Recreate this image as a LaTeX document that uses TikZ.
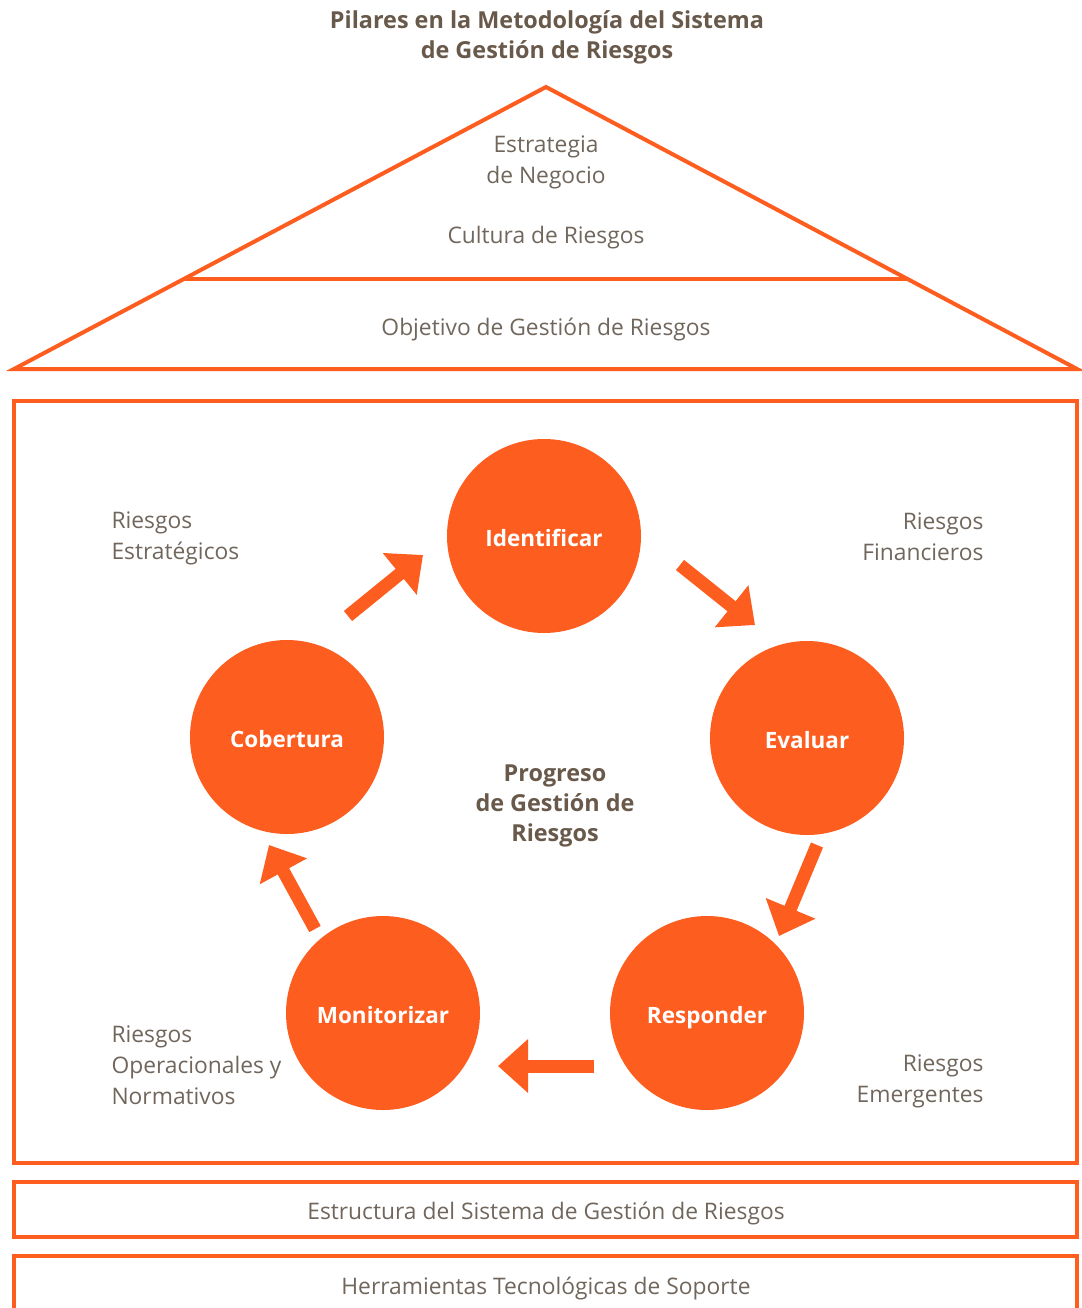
\documentclass[tikz,border=0pt]{standalone}
\usepackage{fontspec}
\setmainfont{Open Sans}
\usetikzlibrary{arrows.meta}
\definecolor{naranja}{RGB}{253,93,31}
\definecolor{gris}{RGB}{112,102,92}
\definecolor{marron}{RGB}{104,89,74}

\tikzset{
  linea/.style={draw=naranja, line width=4pt},
  paso/.style={circle, fill=naranja, minimum size=194pt, inner sep=0pt,
    text height=20pt, text depth=0pt,
    text=white, font=\bfseries\fontsize{22.5}{28}\selectfont},
  texto/.style={text=gris, font=\fontsize{22.8}{31}\selectfont, align=center},
  negrita/.style={text=marron, font=\bfseries\fontsize{23.4}{30}\selectfont, align=center},
  flecha/.style={draw=naranja, line width=13pt, -{Triangle[width=52pt,length=30pt]}},
}

\begin{document}
\begin{tikzpicture}[x=1pt,y=-1pt]
\useasboundingbox (0,0) rectangle (1081,1308);

% title
\node[negrita] (titulo) at (547,37) {Pilares en la Metodología del Sistema\\de Gestión de Riesgos};

% roof
\draw[linea, line join=miter] (14,369) -- (546,87) -- (1077,369) -- cycle;
\draw[linea] (184,279) -- (908,279);
\node[texto] (estrategia) at (546,162) {Estrategia\\de Negocio};
\node[texto] (cultura) at (546,238) {Cultura de Riesgos};
\node[texto] (objetivo) at (546,330) {Objetivo de Gestión de Riesgos};

% main box
\draw[linea] (14,401) rectangle (1077,1163);

% bottom bands
\draw[linea] (14,1182) rectangle (1077,1237);
\node[texto] (estructura) at (546,1213) {Estructura del Sistema de Gestión de Riesgos};
\draw[linea] (14,1256) rectangle (1077,1330);
\node[texto] (herramientas) at (546,1288) {Herramientas Tecnológicas de Soporte};

% cycle steps
\node[paso] (ide) at (544,536) {Identificar};
\node[paso] (eva) at (807,738) {Evaluar};
\node[paso] (res) at (707,1013) {Responder};
\node[paso] (mon) at (383,1013) {Monitorizar};
\node[paso] (cob) at (287,737) {Cobertura};

\node[negrita] (progreso) at (555,806) {Progreso\\de Gestión de\\Riesgos};

% risk families
\node[texto, align=left, anchor=west] (estrategicos) at (108,538) {Riesgos\\Estratégicos};
\node[texto, align=right, anchor=east] (financieros) at (987,537) {Riesgos\\Financieros};
\node[texto, align=left, anchor=west] (operacionales) at (108,1065) {Riesgos\\Operacionales y\\Normativos};
\node[texto, align=right, anchor=east] (emergentes) at (987,1081) {Riesgos\\Emergentes};

% arrows between steps
\coordinate (c1a) at ([shift={(61,-121)}]cob.center);
\coordinate (c1b) at ([shift={(-121,19)}]ide.center);
\coordinate (c2a) at ([shift={(136,29)}]ide.center);
\coordinate (c2b) at ([shift={(-52,-113)}]eva.center);
\coordinate (c3a) at ([shift={(10,107)}]eva.center);
\coordinate (c3b) at ([shift={(72,-77)}]res.center);
\coordinate (c4a) at ([shift={(-113,53)}]res.center);
\coordinate (c4b) at ([shift={(115,53)}]mon.center);
\coordinate (c5a) at ([shift={(-68,-84)}]mon.center);
\coordinate (c5b) at ([shift={(-18,108)}]cob.center);
\draw[flecha] (c1a) -- (c1b);
\draw[flecha] (c2a) -- (c2b);
\draw[flecha] (c3a) -- (c3b);
\draw[flecha] (c4a) -- (c4b);
\draw[flecha] (c5a) -- (c5b);

\end{tikzpicture}
\end{document}
